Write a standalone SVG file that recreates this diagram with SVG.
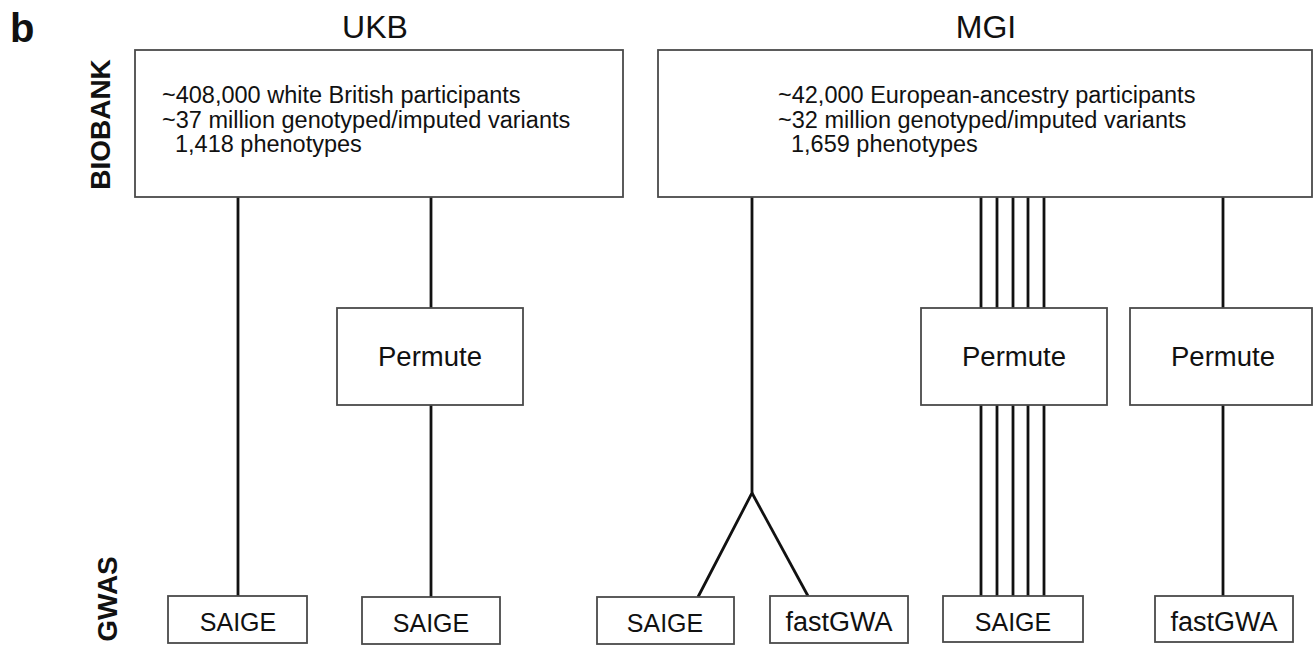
<svg xmlns="http://www.w3.org/2000/svg" width="1314" height="645" viewBox="0 0 1314 645">
<style>
.box{fill:#fff;stroke:#4a4a4a;stroke-width:1.8}
.ln{stroke:#111;stroke-width:2.8;fill:none}
.t{font-family:"Liberation Sans",Arial,sans-serif;fill:#111}
.lbl{font-family:"Liberation Sans",Arial,sans-serif;fill:#111;text-anchor:middle}
.b{font-family:"Liberation Sans",Arial,sans-serif;font-weight:bold;fill:#111}
</style>
<rect width="1314" height="645" fill="#fff"/>
<text class="b" x="10" y="42" font-size="40">b</text>
<text class="lbl" x="375" y="38" font-size="32">UKB</text>
<text class="lbl" x="986" y="38" font-size="32">MGI</text>
<text class="b" transform="translate(110,124.5) rotate(-90)" text-anchor="middle" font-size="28">BIOBANK</text>
<text class="b" transform="translate(117,599) rotate(-90)" text-anchor="middle" font-size="28">GWAS</text>
<g id="connectors">
<line class="ln" x1="238" y1="197" x2="238" y2="596"/>
<line class="ln" x1="431" y1="197" x2="431" y2="308"/>
<line class="ln" x1="431" y1="405" x2="431" y2="597"/>
<polyline class="ln" points="752,197 752,493 698,597"/>
<line class="ln" x1="752" y1="493" x2="808" y2="596"/>
<g>
<line class="ln" x1="981" y1="197" x2="981" y2="308"/>
<line class="ln" x1="997" y1="197" x2="997" y2="308"/>
<line class="ln" x1="1013" y1="197" x2="1013" y2="308"/>
<line class="ln" x1="1028" y1="197" x2="1028" y2="308"/>
<line class="ln" x1="1044" y1="197" x2="1044" y2="308"/>
<line class="ln" x1="981" y1="405" x2="981" y2="596"/>
<line class="ln" x1="997" y1="405" x2="997" y2="596"/>
<line class="ln" x1="1013" y1="405" x2="1013" y2="596"/>
<line class="ln" x1="1028" y1="405" x2="1028" y2="596"/>
<line class="ln" x1="1044" y1="405" x2="1044" y2="596"/>
</g>
<line class="ln" x1="1223" y1="197" x2="1223" y2="308"/>
<line class="ln" x1="1223" y1="405" x2="1223" y2="596"/>
</g>
<g id="ukb-biobank">
<rect class="box" x="135" y="50" width="488" height="147"/>
<text class="t" x="162" y="103" font-size="23.5">~408,000 white British participants</text>
<text class="t" x="162" y="127.5" font-size="23.5">~37 million genotyped/imputed variants</text>
<text class="t" x="175" y="152" font-size="23.5">1,418 phenotypes</text>
</g>
<g id="mgi-biobank">
<rect class="box" x="658" y="50" width="654" height="147"/>
<text class="t" x="778" y="103" font-size="23.5">~42,000 European-ancestry participants</text>
<text class="t" x="778" y="127.5" font-size="23.5">~32 million genotyped/imputed variants</text>
<text class="t" x="791" y="152" font-size="23.5">1,659 phenotypes</text>
</g>
<g id="ukb-permute">
<rect class="box" x="337" y="308" width="186" height="97"/>
<text class="lbl" x="430" y="366" font-size="27.5">Permute</text>
</g>
<g id="mgi-permute-1">
<rect class="box" x="921" y="308" width="186" height="97"/>
<text class="lbl" x="1014" y="366" font-size="27.5">Permute</text>
</g>
<g id="mgi-permute-2">
<rect class="box" x="1130" y="308" width="182" height="97"/>
<text class="lbl" x="1223" y="366" font-size="27.5">Permute</text>
</g>
<g id="ukb-saige-1">
<rect class="box" x="168" y="596" width="139" height="47"/>
<text class="lbl" x="238" y="631" font-size="25">SAIGE</text>
</g>
<g id="ukb-saige-2">
<rect class="box" x="362" y="597" width="138" height="47"/>
<text class="lbl" x="431" y="632" font-size="25">SAIGE</text>
</g>
<g id="mgi-saige-1">
<rect class="box" x="597" y="597" width="137" height="47"/>
<text class="lbl" x="665" y="632" font-size="25">SAIGE</text>
</g>
<g id="mgi-fastgwa-1">
<rect class="box" x="770" y="596" width="138" height="47"/>
<text class="lbl" x="839" y="631" font-size="27">fastGWA</text>
</g>
<g id="mgi-saige-2">
<rect class="box" x="943" y="596" width="140" height="46"/>
<text class="lbl" x="1013" y="631" font-size="25">SAIGE</text>
</g>
<g id="mgi-fastgwa-2">
<rect class="box" x="1155" y="596" width="138" height="46"/>
<text class="lbl" x="1224" y="631" font-size="27">fastGWA</text>
</g>
</svg>
